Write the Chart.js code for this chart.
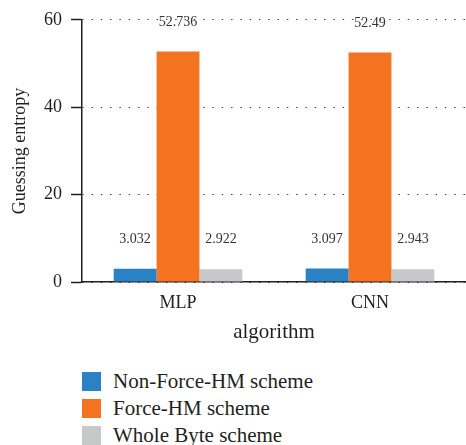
<!DOCTYPE html>
<html>
<head>
<meta charset="utf-8">
<script src="https://cdn.jsdelivr.net/npm/chart.js@4/dist/chart.umd.min.js"></script>
<style>
  html, body { margin: 0; padding: 0; background: #fff; }
  #wrap { position: relative; width: 466px; height: 445px; }
  #chart-box { position: absolute; left: 0; top: 0; width: 466px; height: 350px; }
  #legend { position: absolute; left: 82px; top: 372px; font-family: "Liberation Serif", serif; font-size: 21px; color: #231f20; }
  .legend-item { display: flex; align-items: center; height: 19px; margin-bottom: 8px; }
  .legend-swatch { width: 19px; height: 19px; margin-right: 12px; flex: none; }
</style>
</head>
<body>
<div id="wrap">
  <div id="chart-box"><canvas id="main-chart"></canvas></div>
  <div id="legend"></div>
</div>
<script>
const categories = ['MLP', 'CNN'];
const nonForceHM = [3.032, 3.097];
const forceHM = [52.736, 52.49];
const wholeByte = [2.922, 2.943];
const yTicks = [0, 20, 40, 60];

const seriesNames = ['Non-Force-HM scheme', 'Force-HM scheme', 'Whole Byte scheme'];
const seriesColors = ['#2a82c4', '#f47321', '#c7c8ca'];

const textColor = '#231f20';
const serif = '"Liberation Serif", serif';

// value labels above each bar
const valueLabels = {
    id: 'valueLabels',
    afterDatasetsDraw(chart) {
        const ctx = chart.ctx;
        ctx.save();
        ctx.font = '14px ' + serif;
        ctx.fillStyle = '#333';
        ctx.textAlign = 'center';
        ctx.textBaseline = 'middle';
        chart.data.datasets.forEach((ds, i) => {
            chart.getDatasetMeta(i).data.forEach((bar, j) => {
                ctx.fillText(String(ds.data[j]), bar.x, bar.y - 29.5);
            });
        });
        ctx.restore();
    }
};

const chart = new Chart(document.getElementById('main-chart'), {
    type: 'bar',
    data: {
        labels: categories,
        datasets: [nonForceHM, forceHM, wholeByte].map((values, i) => ({
            label: seriesNames[i],
            data: values,
            backgroundColor: seriesColors[i],
            borderWidth: 0,
            categoryPercentage: 0.67,
            barPercentage: 1.0
        }))
    },
    options: {
        responsive: true,
        maintainAspectRatio: false,
        animation: false,
        layout: { padding: { top: 18, right: 0, bottom: 0, left: 0 } },
        plugins: {
            legend: { display: false },
            tooltip: { enabled: false }
        },
        scales: {
            x: {
                grid: { display: false, drawTicks: false },
                border: { display: true, color: textColor, width: 1.5 },
                ticks: { color: textColor, font: { family: serif, size: 18 }, padding: 10 },
                title: {
                    display: true,
                    text: 'algorithm',
                    color: textColor,
                    font: { family: serif, size: 21 },
                    padding: { top: 0, bottom: 5 }
                },
                afterFit(scale) { scale.height = 68; }
            },
            y: {
                min: 0,
                max: 60,
                afterBuildTicks(scale) { scale.ticks = yTicks.map(v => ({ value: v })); },
                grid: {
                    color: '#444',
                    lineWidth: 1,
                    drawTicks: true,
                    tickLength: 11,
                    tickColor: textColor,
                    tickWidth: 1.5,
                    tickBorderDash: []
                },
                border: { display: true, color: textColor, width: 1.5, dash: [1.5, 7.8], dashOffset: -9 },
                ticks: { color: textColor, font: { family: serif, size: 18 }, padding: 9 },
                title: {
                    display: true,
                    text: 'Guessing entropy',
                    color: textColor,
                    font: { family: serif, size: 18 },
                    padding: { top: 9, bottom: 0 }
                },
                afterFit(scale) { scale.width = 82; }
            }
        }
    },
    plugins: [valueLabels]
});

// legend list built from the datasets
const legendEl = document.getElementById('legend');
chart.data.datasets.forEach(ds => {
    const item = document.createElement('div');
    item.className = 'legend-item';
    const sw = document.createElement('span');
    sw.className = 'legend-swatch';
    sw.style.background = ds.backgroundColor;
    const label = document.createElement('span');
    label.textContent = ds.label;
    item.appendChild(sw);
    item.appendChild(label);
    legendEl.appendChild(item);
});
</script>
</body>
</html>
